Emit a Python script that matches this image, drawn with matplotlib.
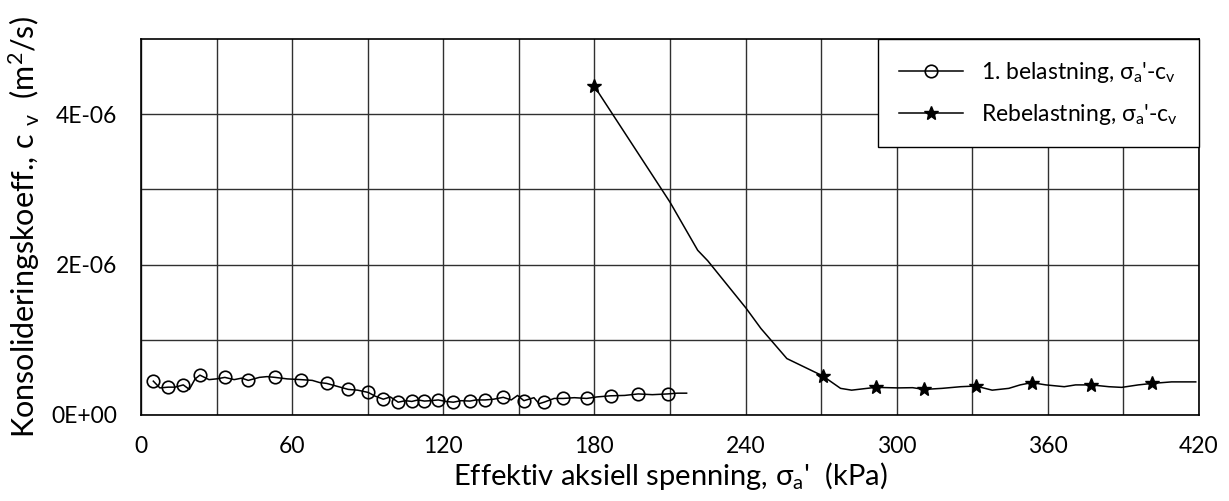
import numpy as np
import matplotlib
matplotlib.use('Agg')
import matplotlib.pyplot as plt
from matplotlib.ticker import FixedLocator, FuncFormatter

plt.rcParams['font.family'] = ['Lato', 'DejaVu Sans']
plt.rcParams['mathtext.fontset'] = 'custom'
plt.rcParams['mathtext.rm'] = 'Lato'
plt.rcParams['mathtext.it'] = 'Lato:italic'

# 1. belastning (circles) - line with wiggles, markers on selected points
bel_x = [4.9, 7.5, 10.8, 13.5, 16.8, 19.2, 21.5, 23.4, 27.0, 30.0, 33.3, 37.0, 40.0, 42.6,
         47.0, 50.0, 53.2, 58.0, 63.5, 68.0, 71.0, 73.7, 78.0, 82.3, 86.0, 90.2, 93.0,
         96.2, 99.0, 102.1, 105.0, 107.5, 110.0, 112.5, 115.0, 118.0, 121.0, 124.0,
         127.0, 130.6, 133.0, 136.6, 140.0, 143.8, 147.0, 149.5, 152.0, 156.0, 158.0,
         160.0, 164.0, 167.7, 172.0, 176.9, 181.0, 186.4, 192.0, 197.4, 203.0, 209.1,
         213.0, 216.6]
bel_y = [0.45, 0.36, 0.37, 0.37, 0.40, 0.34, 0.48, 0.53, 0.47, 0.48, 0.50, 0.47, 0.49, 0.46,
         0.50, 0.51, 0.50, 0.48, 0.47, 0.46, 0.43, 0.42, 0.38, 0.34, 0.33, 0.30, 0.25,
         0.21, 0.24, 0.17, 0.19, 0.18, 0.20, 0.185, 0.19, 0.20, 0.18, 0.17, 0.19, 0.185,
         0.20, 0.20, 0.21, 0.235, 0.20, 0.26, 0.19, 0.23, 0.15, 0.17, 0.22, 0.22, 0.23,
         0.22, 0.24, 0.255, 0.26, 0.28, 0.27, 0.28, 0.29, 0.29]
bel_marker_idx = [0, 2, 4, 7, 10, 13, 16, 18, 21, 23, 25, 27, 29, 31, 33, 35, 37, 39, 41,
                  43, 46, 49, 51, 53, 55, 57, 59]

# Rebelastning (stars)
reb_x = [180.0, 210.0, 221.0, 225.0, 240.2, 246.1, 256.4, 270.6, 277.7, 282.1, 287.2, 291.6,
         300.5, 306.3, 311.0, 318.0, 325.4, 331.3, 337.9, 344.5, 349.0, 353.6, 359.2,
         366.5, 371.0, 377.2, 384.2, 389.3, 395.9, 401.5, 409.1, 418.7]
reb_y = [4.37, 2.83, 2.19, 2.05, 1.42, 1.15, 0.75, 0.52, 0.354, 0.33, 0.35, 0.367,
         0.36, 0.363, 0.34, 0.354, 0.376, 0.385, 0.33, 0.354, 0.40, 0.43, 0.40,
         0.376, 0.40, 0.40, 0.376, 0.367, 0.40, 0.42, 0.44, 0.44]
reb_marker_idx = [0, 7, 11, 14, 17, 21, 25, 29]

bel_y = np.array(bel_y) * 1e-6
reb_y = np.array(reb_y) * 1e-6

fig = plt.figure(figsize=(12.29, 5.01), dpi=100)
ax = fig.add_axes([0.1147, 0.1717, 0.8609, 0.7505])

ax.plot(bel_x, bel_y, color='black', lw=1.1, marker='o', markersize=9,
        markerfacecolor='none', markeredgewidth=1.2, markevery=bel_marker_idx,
        label="1. belastning, σ$_\\mathrm{a}$'-c$_\\mathrm{v}$")
ax.plot(reb_x, reb_y, color='black', lw=1.1, marker='*', markersize=10,
        markevery=reb_marker_idx,
        label="Rebelastning, σ$_\\mathrm{a}$'-c$_\\mathrm{v}$")

ax.set_xlim(0, 420)
ax.set_ylim(0, 5e-6)
ax.xaxis.set_major_locator(FixedLocator(np.arange(0, 421, 60)))
ax.xaxis.set_minor_locator(FixedLocator(np.arange(30, 421, 60)))
ax.yaxis.set_major_locator(FixedLocator([0, 2e-6, 4e-6]))
ax.yaxis.set_minor_locator(FixedLocator([1e-6, 3e-6]))

labels = {0: '0E+00', 2: '2E-06', 4: '4E-06'}
ax.yaxis.set_major_formatter(FuncFormatter(lambda v, p: labels.get(int(round(v * 1e6)), '')))

ax.grid(True, which='both', color='#303030', lw=1.0)
ax.set_axisbelow(True)
ax.tick_params(axis='x', which='both', length=0, pad=15, labelsize=16.5)
ax.tick_params(axis='y', which='both', length=0, pad=17, labelsize=16.5)
for s in ax.spines.values():
    s.set_linewidth(1.2)
    s.set_color('black')

ax.set_xlabel("Effektiv aksiell spenning, σ$_\\mathrm{a}$'  (kPa)", fontsize=21, labelpad=2)
ax.set_ylabel("Konsolideringskoeff., c $_\\mathrm{v}$  (m$^2$/s)", fontsize=22, labelpad=7)

leg = ax.legend(loc='upper right', bbox_to_anchor=(1, 1), borderaxespad=0,
                fancybox=False, edgecolor='black', framealpha=1, fontsize=16.5,
                handlelength=2.8, handletextpad=0.8, labelspacing=0.75,
                borderpad=0.9)
leg.get_frame().set_linewidth(1.0)

fig.savefig('out.png', dpi=100)
